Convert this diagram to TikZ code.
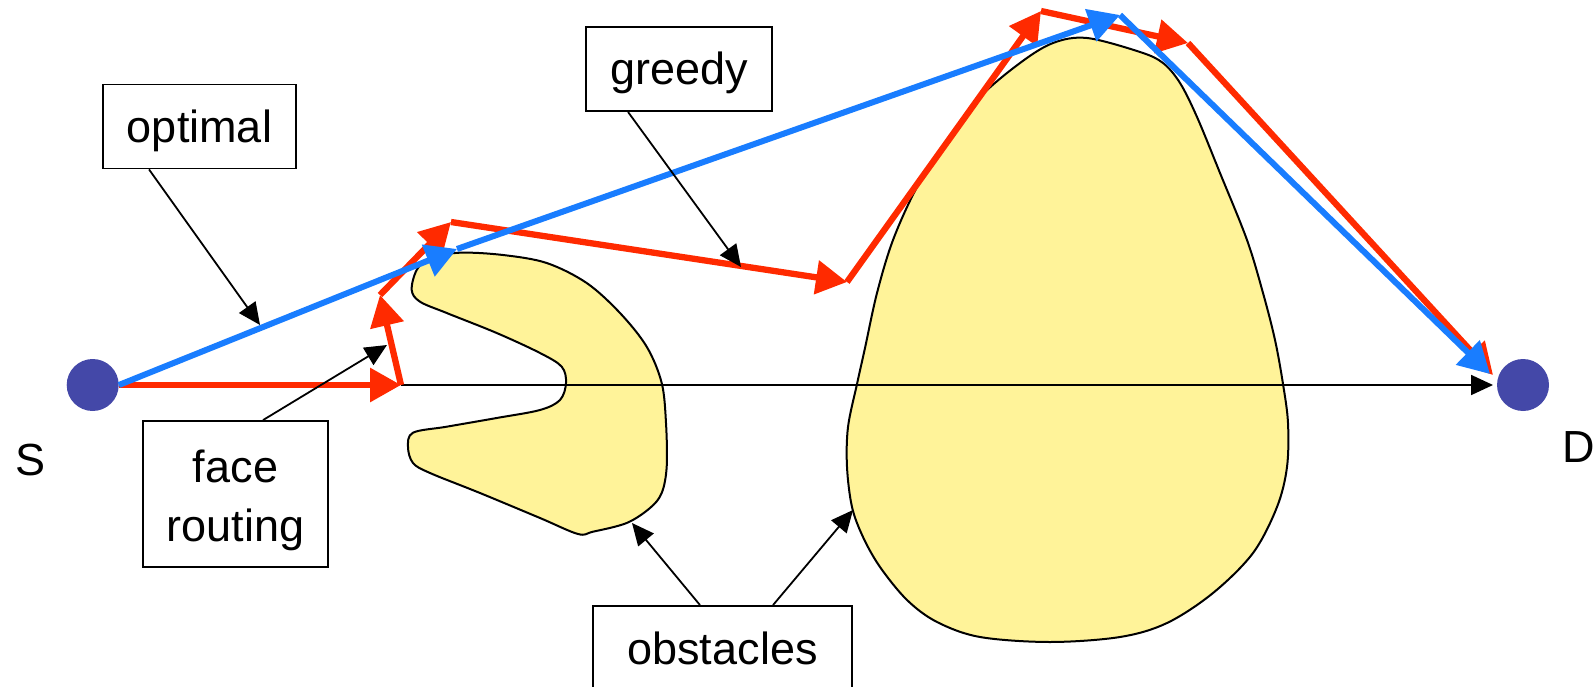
\documentclass[tikz,border=0pt]{standalone}
\usepackage{fontspec}
\setmainfont{Liberation Sans}
\usetikzlibrary{arrows.meta}
\definecolor{rred}{RGB}{255,42,0}
\definecolor{rblue}{RGB}{25,125,255}
\definecolor{rnode}{RGB}{68,72,168}
\definecolor{ryellow}{RGB}{255,243,153}
\begin{document}
\begin{tikzpicture}[x=1pt,y=-1pt,
  every node/.style={font=\fontsize{45}{59}\selectfont},
  lbl/.style={draw=black, line width=1.8pt, fill=white, inner sep=0pt, text height=32pt, text depth=0pt, minimum height=84pt},
  lblmulti/.style={draw=black, line width=1.8pt, fill=white, inner sep=0pt},
  redarr/.style={draw=rred, line width=6.3pt, -{Triangle[length=31pt,width=33pt]}},
  bluearr/.style={draw=rblue, line width=6pt, -{Triangle[length=31pt,width=33pt]}},
  thinarr/.style={draw=black, line width=1.8pt, -{Triangle[length=22pt,width=20pt]}},
  obst/.style={draw=black, line width=2pt, fill=ryellow},
  endpt/.style={circle, fill=rnode, minimum size=52pt, inner sep=0pt}]
\useasboundingbox (0,0) rectangle (1594,687);

% obstacles
\draw[obst] plot[smooth cycle, tension=0.55] coordinates {
 (411.7,290) (416.7,270) (430,258) (460,252.7) (503,255) (546.7,263) (586.7,283)
 (620,313) (646.7,346.7) (661.7,383) (666,423) (666.7,466.7) (661.7,493) (650,508)
 (626.7,523) (593,531.7) (578,534) (540,518) (480,493) (430,473) (413,463) (408,447)
 (413,432.7) (446.7,426.7) (496.7,418) (540,410) (560,400) (566,383) (561.7,366.7)
 (540,353) (496.7,333) (446.7,313) (420,301.7)};
\draw[obst] plot[smooth cycle, tension=0.55] coordinates {
 (1087,38) (1140,52) (1163,63) (1180,83) (1197,117) (1220,173) (1247,240) (1263,293)
 (1275,340) (1283,384) (1288,423) (1287,467) (1277,507) (1253,553) (1213,593) (1167,623)
 (1120,637) (1050,642) (980,637) (937,622) (907,600) (880,567) (863,537) (852,507)
 (847,467) (848,427) (857,384) (865,348) (877,293) (893,240) (917,187) (947,140)
 (980,97) (1020,63) (1053,43)};

% end points
\node[endpt] (S) at (92.7,385) {};
\node[endpt] (D) at (1523,385) {};
\node[anchor=base, inner sep=0pt] (Slabel) at (31,475) {S};
\node[anchor=base west, inner sep=0pt] (Dlabel) at (1562,462) {D};

% coordinates
\coordinate (r1) at (401,385);
\coordinate (r2) at (380,295);
\coordinate (r3) at (451,222);
\coordinate (r4) at (847,282);
\coordinate (r5) at (1041,11);
\coordinate (r6) at (1188,43);
\coordinate (r7) at (1493,375);
\coordinate (b1) at (457,249);
\coordinate (b2) at (1120,15);
\coordinate (b3) at (1490,374);
\coordinate (dtip) at (1493,385);
\coordinate (optTip) at (260,325);
\coordinate (grTip) at (741,267);
\coordinate (faceTip) at (387,345);
\coordinate (obATip) at (632,523);
\coordinate (obBTip) at (853,510);

% straight line
\draw[thinarr] (r1) -- (dtip);

% greedy / face routing path
\draw[redarr] (S.east) -- (r1);
\draw[redarr] (r1) -- (r2);
\draw[redarr] (r2) -- (r3);
\draw[redarr] (r3) -- (r4);
\draw[redarr] (r4) -- (r5);
\draw[redarr] (r5) -- (r6);
\draw[redarr] (r6) -- (r7);

% optimal path
\draw[bluearr] (S.east) -- (b1);
\draw[bluearr] (b1) -- (b2);
\draw[bluearr] (b2) -- (b3);

% label boxes
\node[lbl, minimum width=193pt] (optimal) at (199.5,126.5) {optimal};
\node[lbl, minimum width=186pt] (greedy) at (679,69) {greedy};
\node[lblmulti] (face) at (235.5,494) {\parbox[c][146pt][t]{185pt}{\centering\rule{0pt}{61pt}face\\routing}};
\node[lbl, minimum width=259pt] (obstacles) at (722.5,648) {obstacles};

% connectors
\draw[thinarr] ([xshift=-50.5pt]optimal.south) -- (optTip);
\draw[thinarr] ([xshift=-51pt]greedy.south) -- (grTip);
\draw[thinarr] ([xshift=27.5pt]face.north) -- (faceTip);
\draw[thinarr] ([xshift=-22.5pt]obstacles.north) -- (obATip);
\draw[thinarr] ([xshift=50.5pt]obstacles.north) -- (obBTip);
\end{tikzpicture}
\end{document}
